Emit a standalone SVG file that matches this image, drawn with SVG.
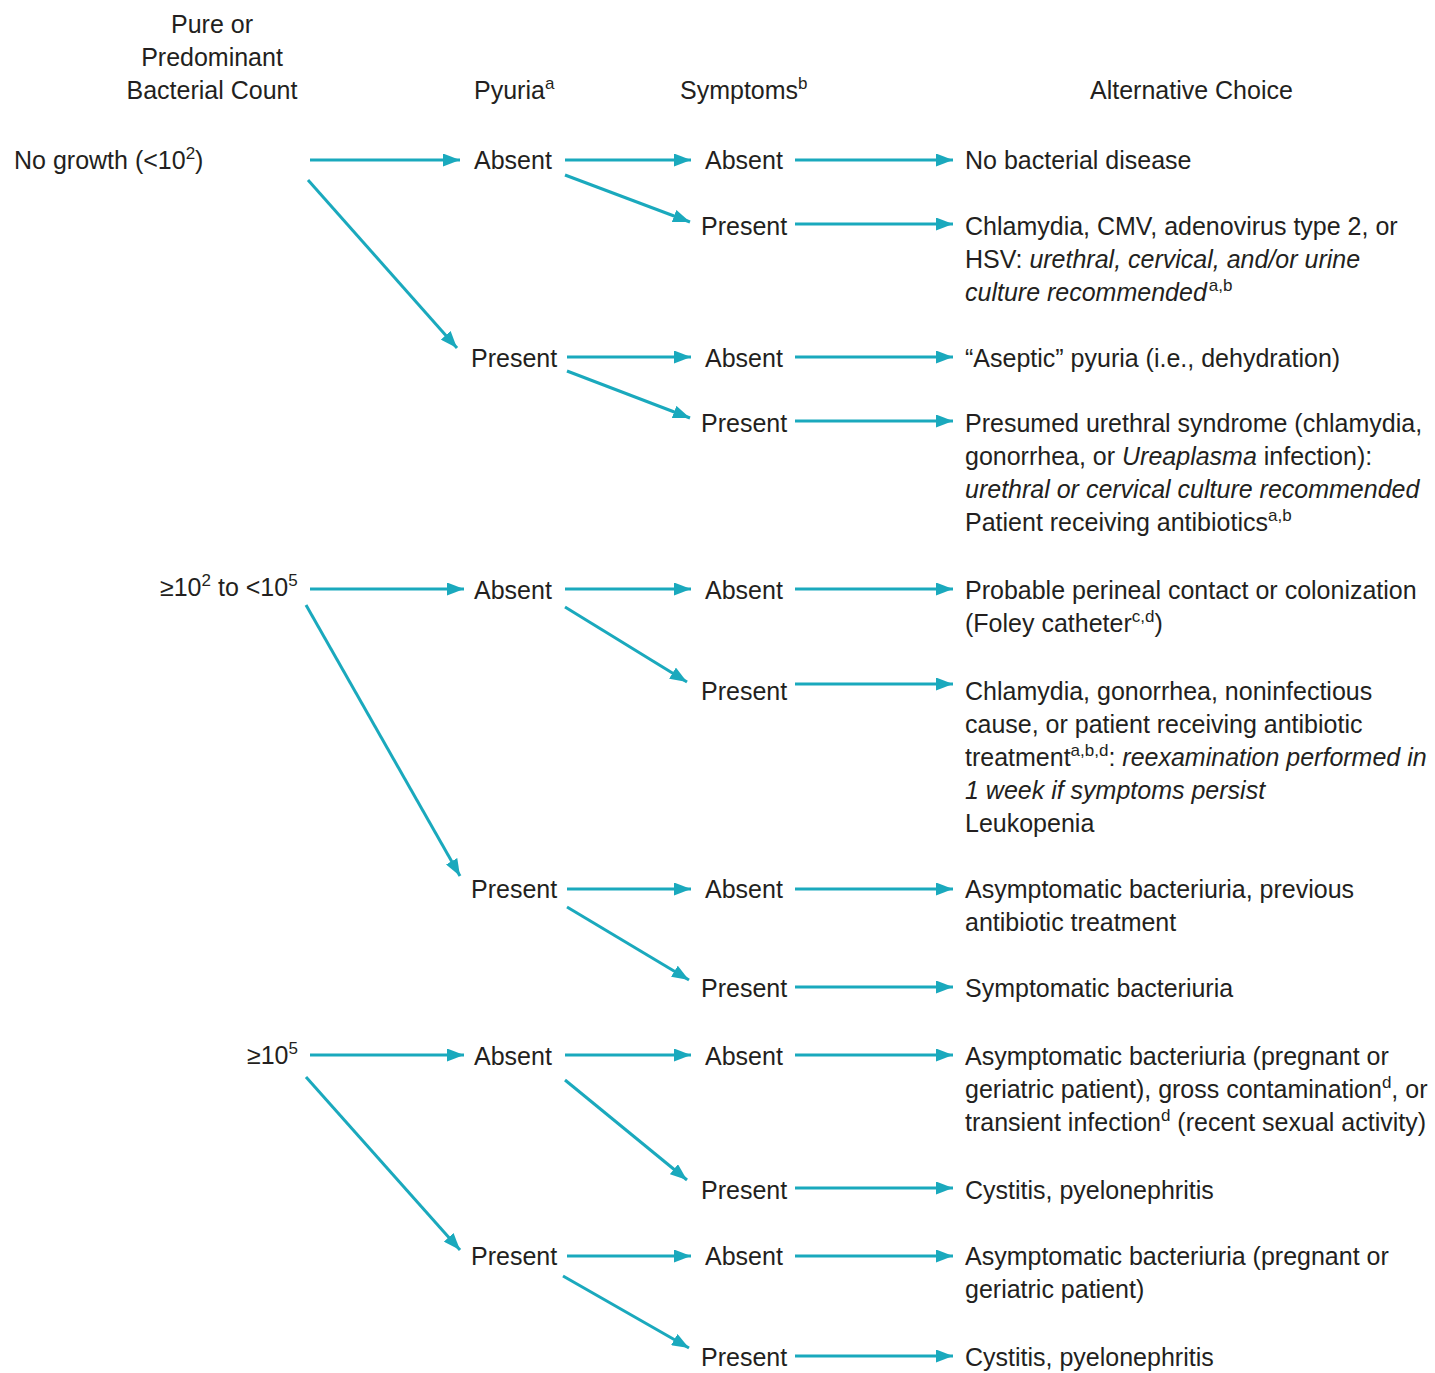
<svg xmlns="http://www.w3.org/2000/svg" width="1435" height="1373" viewBox="0 0 1435 1373">
<defs>
<marker id="ah" viewBox="0 0 17 13" refX="17" refY="6.5" markerWidth="17" markerHeight="13" markerUnits="userSpaceOnUse" orient="auto">
<path d="M0,0 L17,6.5 L0,13 z" fill="#1aa9bd"/>
</marker>
<style>
text{font-family:"Liberation Sans",Arial,sans-serif;font-size:25px;fill:#231f20}
.i{font-style:italic}
.s{font-size:17px}
.c{stroke:#1aa9bd;stroke-width:3;fill:none;marker-end:url(#ah)}
</style>
</defs>
<rect width="1435" height="1373" fill="#ffffff"/>
<g id="headers">
<text x="212" y="33" text-anchor="middle">Pure or</text>
<text x="212" y="66" text-anchor="middle">Predominant</text>
<text x="212" y="99" text-anchor="middle">Bacterial Count</text>
<text x="474" y="99">Pyuria<tspan class="s" dy="-10">a</tspan></text>
<text x="680" y="99">Symptoms<tspan class="s" dy="-10">b</tspan></text>
<text x="1090" y="99">Alternative Choice</text>
</g>
<g id="connectors">
<line class="c" x1="310" y1="160" x2="460" y2="160"/>
<line class="c" x1="308" y1="180" x2="457" y2="348"/>
<line class="c" x1="565" y1="160" x2="691" y2="160"/>
<line class="c" x1="565" y1="175" x2="690" y2="222"/>
<line class="c" x1="795" y1="160" x2="953" y2="160"/>
<line class="c" x1="795" y1="224" x2="953" y2="224"/>
<line class="c" x1="567" y1="357" x2="691" y2="357"/>
<line class="c" x1="567" y1="371" x2="690" y2="418"/>
<line class="c" x1="795" y1="357" x2="953" y2="357"/>
<line class="c" x1="795" y1="421" x2="953" y2="421"/>

<line class="c" x1="310" y1="589" x2="464" y2="589"/>
<line class="c" x1="306" y1="605" x2="460" y2="876"/>
<line class="c" x1="565" y1="589" x2="691" y2="589"/>
<line class="c" x1="565" y1="607" x2="687" y2="682"/>
<line class="c" x1="795" y1="589" x2="953" y2="589"/>
<line class="c" x1="795" y1="684" x2="953" y2="684"/>
<line class="c" x1="567" y1="889" x2="691" y2="889"/>
<line class="c" x1="567" y1="907" x2="689" y2="980"/>
<line class="c" x1="795" y1="889" x2="953" y2="889"/>
<line class="c" x1="795" y1="987" x2="953" y2="987"/>

<line class="c" x1="310" y1="1055" x2="464" y2="1055"/>
<line class="c" x1="306" y1="1077" x2="460" y2="1250"/>
<line class="c" x1="565" y1="1055" x2="691" y2="1055"/>
<line class="c" x1="565" y1="1080" x2="687" y2="1180"/>
<line class="c" x1="795" y1="1055" x2="953" y2="1055"/>
<line class="c" x1="795" y1="1188" x2="953" y2="1188"/>
<line class="c" x1="567" y1="1256" x2="691" y2="1256"/>
<line class="c" x1="563" y1="1276" x2="689" y2="1348"/>
<line class="c" x1="795" y1="1256" x2="953" y2="1256"/>
<line class="c" x1="795" y1="1356" x2="953" y2="1356"/>
</g>
<g id="count1"><text x="14" y="169">No growth (&lt;10<tspan class="s" dy="-10">2</tspan><tspan dy="10">)</tspan></text></g>
<g id="count2"><text x="160" y="596">≥10<tspan class="s" dy="-10">2</tspan><tspan dy="10"> to &lt;10</tspan><tspan class="s" dy="-10">5</tspan></text></g>
<g id="count3"><text x="247" y="1064">≥10<tspan class="s" dy="-10">5</tspan></text></g>

<g id="p1a"><text x="474" y="169">Absent</text></g>
<g id="p1p"><text x="471" y="367">Present</text></g>
<g id="p2a"><text x="474" y="599">Absent</text></g>
<g id="p2p"><text x="471" y="898">Present</text></g>
<g id="p3a"><text x="474" y="1065">Absent</text></g>
<g id="p3p"><text x="471" y="1265">Present</text></g>

<g id="s1"><text x="705" y="169">Absent</text></g>
<g id="s2"><text x="701" y="235">Present</text></g>
<g id="s3"><text x="705" y="367">Absent</text></g>
<g id="s4"><text x="701" y="432">Present</text></g>
<g id="s5"><text x="705" y="599">Absent</text></g>
<g id="s6"><text x="701" y="700">Present</text></g>
<g id="s7"><text x="705" y="898">Absent</text></g>
<g id="s8"><text x="701" y="997">Present</text></g>
<g id="s9"><text x="705" y="1065">Absent</text></g>
<g id="s10"><text x="701" y="1199">Present</text></g>
<g id="s11"><text x="705" y="1265">Absent</text></g>
<g id="s12"><text x="701" y="1366">Present</text></g>

<g id="r1"><text x="965" y="169">No bacterial disease</text></g>
<g id="r2">
<text x="965" y="235">Chlamydia, CMV, adenovirus type 2, or</text>
<text x="965" y="268">HSV: <tspan class="i">urethral, cervical, and/or urine</tspan></text>
<text x="965" y="301"><tspan class="i">culture recommended</tspan><tspan class="s" dx="2" dy="-10">a,b</tspan></text>
</g>
<g id="r3"><text x="965" y="367">“Aseptic” pyuria (i.e., dehydration)</text></g>
<g id="r4">
<text x="965" y="432">Presumed urethral syndrome (chlamydia,</text>
<text x="965" y="465">gonorrhea, or <tspan class="i">Ureaplasma</tspan> infection):</text>
<text x="965" y="498" class="i">urethral or cervical culture recommended</text>
<text x="965" y="531">Patient receiving antibiotics<tspan class="s" dy="-10">a,b</tspan></text>
</g>
<g id="r5">
<text x="965" y="599">Probable perineal contact or colonization</text>
<text x="965" y="632">(Foley catheter<tspan class="s" dy="-10">c,d</tspan><tspan dy="10">)</tspan></text>
</g>
<g id="r6">
<text x="965" y="700">Chlamydia, gonorrhea, noninfectious</text>
<text x="965" y="733">cause, or patient receiving antibiotic</text>
<text x="965" y="766">treatment<tspan class="s" dy="-10">a,b,d</tspan><tspan dy="10">: </tspan><tspan class="i">reexamination performed in</tspan></text>
<text x="965" y="799" class="i">1 week if symptoms persist</text>
<text x="965" y="832">Leukopenia</text>
</g>
<g id="r7">
<text x="965" y="898">Asymptomatic bacteriuria, previous</text>
<text x="965" y="931">antibiotic treatment</text>
</g>
<g id="r8"><text x="965" y="997">Symptomatic bacteriuria</text></g>
<g id="r9">
<text x="965" y="1065">Asymptomatic bacteriuria (pregnant or</text>
<text x="965" y="1098">geriatric patient), gross contamination<tspan class="s" dy="-10">d</tspan><tspan dy="10">, or</tspan></text>
<text x="965" y="1131">transient infection<tspan class="s" dy="-10">d</tspan><tspan dy="10"> (recent sexual activity)</tspan></text>
</g>
<g id="r10"><text x="965" y="1199">Cystitis, pyelonephritis</text></g>
<g id="r11">
<text x="965" y="1265">Asymptomatic bacteriuria (pregnant or</text>
<text x="965" y="1298">geriatric patient)</text>
</g>
<g id="r12"><text x="965" y="1366">Cystitis, pyelonephritis</text></g>
</svg>
